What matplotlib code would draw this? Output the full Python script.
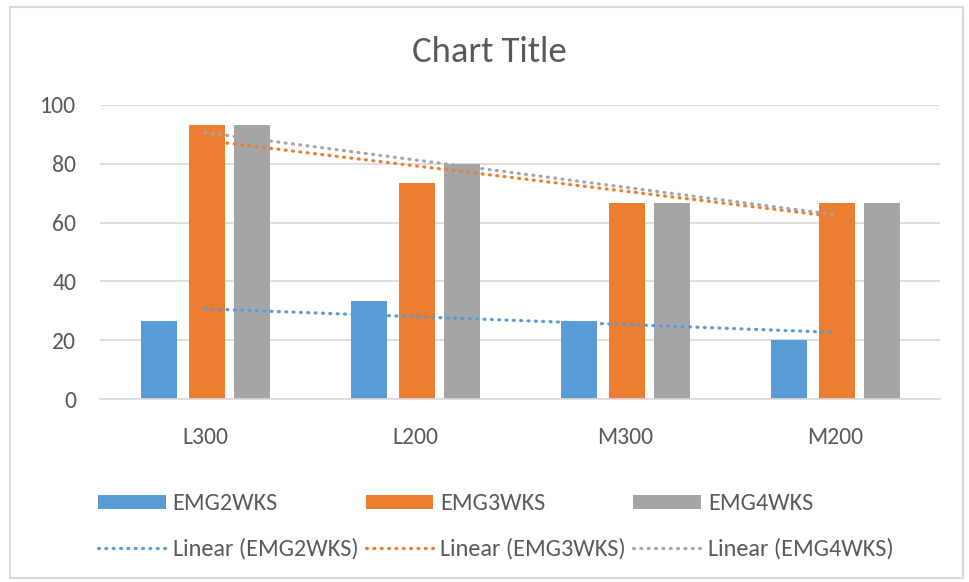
import numpy as np
import matplotlib
matplotlib.use('Agg')
import matplotlib.pyplot as plt
from matplotlib.patches import Rectangle
from matplotlib import font_manager

# Carlito 和 Calibri 字宽一致，没有就用 Liberation Sans
try:
    font_manager.findfont('Carlito', fallback_to_default=False)
    main_font = 'Carlito'
    scale = 1.0
except ValueError:
    main_font = 'Liberation Sans'
    scale = 0.88
plt.rcParams['font.family'] = [main_font, 'DejaVu Sans']

# 数据
categories = ['L300', 'L200', 'M300', 'M200']
emg2 = [26.7, 33.3, 26.7, 20.0]
emg3 = [93.3, 73.3, 66.7, 66.7]
emg4 = [93.3, 80.0, 66.7, 66.7]
series_names = ['EMG2WKS', 'EMG3WKS', 'EMG4WKS']
colors = ['#5B9BD5', '#ED7D31', '#A5A5A5']
text_color = '#595959'
grid_color = '#D9D9D9'

fig = plt.figure(figsize=(9.69, 5.82), dpi=100)
ax = fig.add_axes([0.1032, 0.3144, 0.8668, 0.5052])

x = np.arange(len(categories))
width = 0.172
offsets = [-0.22, 0.01, 0.225]
bars = []
lines = []
for vals, name, col, off in zip([emg2, emg3, emg4], series_names, colors, offsets):
    b = ax.bar(x + off, vals, width, color=col, label=name, zorder=2)
    bars.append(b)
    # 线性趋势线
    k, c = np.polyfit(x, vals, 1)
    ln, = ax.plot(x, k * x + c, color=col, linewidth=2.3,
                  linestyle=(0, (0.3, 2.0)), dash_capstyle='round',
                  label='Linear (' + name + ')', zorder=3)
    lines.append(ln)

ax.set_xlim(-0.5, 3.5)
ax.set_ylim(0, 100)
ax.set_yticks(range(0, 101, 20))
ax.set_xticks(x)
ax.set_xticklabels(categories)
ax.grid(axis='y', color=grid_color, linewidth=1.2, zorder=0)
for s in ['top', 'right', 'left']:
    ax.spines[s].set_visible(False)
ax.spines['bottom'].set_color(grid_color)
ax.spines['bottom'].set_linewidth(1.2)
ax.tick_params(axis='both', length=0, labelsize=17 * scale, colors=text_color)
ax.tick_params(axis='x', pad=20)
ax.tick_params(axis='y', pad=17)

fig.text(0.505, 0.91, 'Chart Title', ha='center', va='center',
         fontsize=26.4 * scale, color=text_color)

handles = [bars[0], lines[0], bars[1], lines[1], bars[2], lines[2]]
labels = [h.get_label() for h in handles]
leg = fig.legend(handles, labels, ncol=3, loc='center left',
                 bbox_to_anchor=(0.0787, 0.095), frameon=False, fontsize=17.4 * scale,
                 handlelength=2.8 / scale, handleheight=0.55, handletextpad=0.29,
                 columnspacing=0.3, labelspacing=1.0)
for t in leg.get_texts():
    t.set_color(text_color)

fig.patches.append(Rectangle((10 / 969, 4 / 582), 953 / 969, 571 / 582,
                             transform=fig.transFigure, fill=False,
                             edgecolor=grid_color, linewidth=1.5))

fig.savefig('out.png', dpi=100)
